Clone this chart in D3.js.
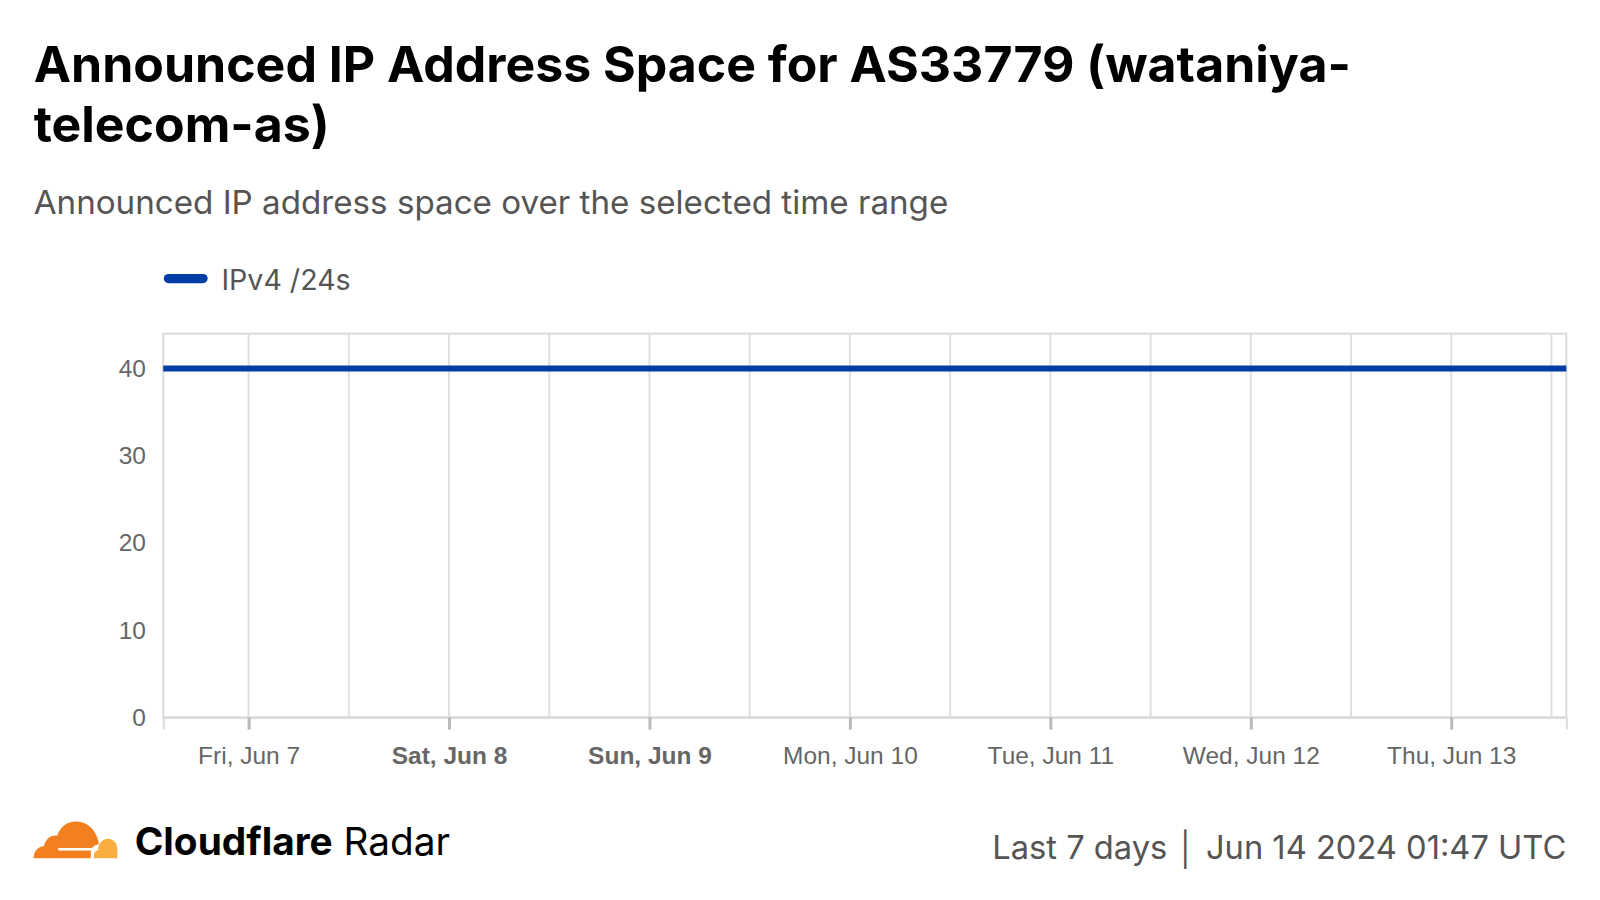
<!DOCTYPE html>
<html><head><meta charset="utf-8">
<script src="https://cdn.jsdelivr.net/npm/d3@7/dist/d3.min.js"></script>
<style>
body{margin:0;background:#fff;}
svg text{font-family:Inter,"Noto Sans",sans-serif;}
svg text.ax{font-family:"Liberation Sans",Arial,sans-serif;}
</style></head>
<body><svg id="c" width="1600" height="900"></svg>
<script>
const titleLines = ["Announced IP Address Space for AS33779 (wataniya-", "telecom-as)"];
const subtitle = "Announced IP address space over the selected time range";
const seriesName = "IPv4 /24s";
const times = ["2024-06-06T13:47Z","2024-06-07T00:00Z","2024-06-07T12:00Z","2024-06-08T00:00Z","2024-06-08T12:00Z","2024-06-09T00:00Z","2024-06-09T12:00Z","2024-06-10T00:00Z","2024-06-10T12:00Z","2024-06-11T00:00Z","2024-06-11T12:00Z","2024-06-12T00:00Z","2024-06-12T12:00Z","2024-06-13T00:00Z","2024-06-13T13:47Z"];
const values = [40,40,40,40,40,40,40,40,40,40,40,40,40,40,40];
const yTicks = [0,10,20,30,40];
const xTickDates = ["2024-06-07","2024-06-08","2024-06-09","2024-06-10","2024-06-11","2024-06-12","2024-06-13"];
const xTickLabels = ["Fri, Jun 7","Sat, Jun 8","Sun, Jun 9","Mon, Jun 10","Tue, Jun 11","Wed, Jun 12","Thu, Jun 13"];
const boldTicks = ["Sat, Jun 8","Sun, Jun 9"];
const footerRight = ["Last 7 days", "Jun 14 2024 01:47 UTC"];

const root = d3.select("#c").append("g").attr("transform", `scale(${1600/1568})`);
const M = {l:160, r:1535, t:327, b:703};
const parse = d3.isoParse;
const x = d3.scaleUtc().domain([parse(times[0]), parse(times[times.length-1])]).range([M.l, M.r]);
const y = d3.scaleLinear().domain([0,44]).range([M.b, M.t]);

// title
const t = root.append("text").attr("font-size",49).attr("font-weight",700).attr("fill","#000");
titleLines.forEach((s,i)=>t.append("tspan").attr("x",33).attr("y",80+i*59).text(s));
root.append("text").attr("x",33).attr("y",210).attr("font-size",32.5).attr("fill","#555").text(subtitle);

// legend
root.append("line").attr("x1",165).attr("x2",199).attr("y1",273).attr("y2",273).attr("stroke","#003da5").attr("stroke-width",9).attr("stroke-linecap","round");
root.append("text").attr("x",217).attr("y",284).attr("font-size",28).attr("fill","#555").text(seriesName);

// grid: vertical every 12h
const gridTimes = d3.utcHour.every(12).range(x.domain()[0], x.domain()[1]);
const g = root.append("g");
g.selectAll("line.v").data(gridTimes).join("line")
  .attr("x1",d=>x(d)).attr("x2",d=>x(d)).attr("y1",M.t).attr("y2",M.b)
  .attr("stroke","#e0e0e0").attr("stroke-width",2);
g.append("rect").attr("x",M.l).attr("y",M.t).attr("width",M.r-M.l).attr("height",M.b-M.t)
  .attr("fill","none").attr("stroke","#dcdcdc").attr("stroke-width",2);

// y axis
const ya = root.append("g").attr("transform",`translate(${M.l},0)`).call(d3.axisLeft(y).tickValues(yTicks).tickSize(0).tickPadding(17));
ya.select(".domain").remove();
ya.selectAll("text").attr("class","ax").attr("font-size",24).attr("fill","#666");

// x axis
const xa = root.append("g").attr("transform",`translate(0,${M.b})`)
  .call(d3.axisBottom(x).tickValues(xTickDates.map(d=>parse(d+"T00:00Z"))).tickSize(12).tickPadding(17).tickFormat((d,i)=>xTickLabels[i]));
xa.select(".domain").attr("stroke","#dcdcdc").attr("stroke-width",2);
xa.selectAll(".tick line").attr("stroke","#bbb").attr("stroke-width",3);
xa.selectAll("text").attr("class","ax").attr("font-size",24).attr("fill","#666")
  .attr("font-weight",(d,i)=>boldTicks.includes(xTickLabels[i])?700:400);

// line
const data = times.map((d,i)=>({t:parse(d), v:values[i]}));
root.append("path").datum(data).attr("fill","none").attr("stroke","#003da5").attr("stroke-width",6)
  .attr("d", d3.line().x(d=>x(d.t)).y(d=>y(d.v)));

// footer logo
const logo = root.append("g").attr("transform","translate(33,805)");
logo.append("path").attr("fill","#f38020")
  .attr("d","M0,36 C0,29 4,25 10,24 C12,17 17,13 23,14 C26,5 33,0 41,0 C52,0 60,7 63,18 L64,22 C60,23 57,25 56,28 L56,36 Z");
logo.append("path").attr("fill","#faae40")
  .attr("d","M59,36 L59,32 C60,29 62,28 64,28 L63,27 C64,21 68,17 73,17 C79,17 82,22 82,28 L82,36 Z");
logo.append("rect").attr("x",24).attr("y",26).attr("width",33).attr("height",2.5).attr("fill","#fff");
root.append("text").attr("x",132).attr("y",838).attr("font-size",38).attr("fill","#000")
  .call(s=>{s.append("tspan").attr("font-weight",700).text("Cloudflare");s.append("tspan").attr("font-weight",400).text(" Radar");});

// footer right
root.append("text").attr("x",1535).attr("y",842).attr("font-size",32).attr("fill","#555").attr("text-anchor","end")
  .text(footerRight[0] + " \u2502 " + footerRight[1]);
</script></body></html>
